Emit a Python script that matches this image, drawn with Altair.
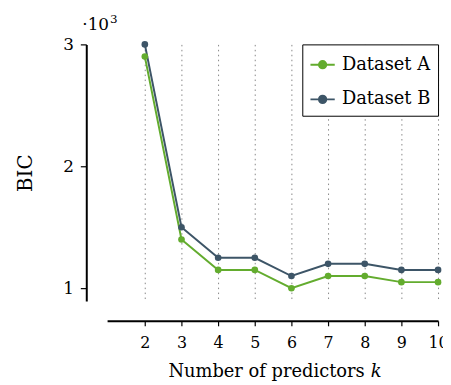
import altair as alt
import pandas as pd

k_values = [2, 3, 4, 5, 6, 7, 8, 9, 10]
bic_a = [2900, 1400, 1150, 1150, 1000, 1100, 1100, 1050, 1050]
bic_b = [3000, 1500, 1250, 1250, 1100, 1200, 1200, 1150, 1150]
series_names = ["Dataset A", "Dataset B"]
series_colors = ["#63ac2e", "#3d5567"]
x_ticks = [2, 3, 4, 5, 6, 7, 8, 9, 10]
y_ticks = [1000, 2000, 3000]

rows = []
for name, vals in zip(series_names, [bic_a, bic_b]):
    for k, v in zip(k_values, vals):
        rows.append({"k": k, "BIC": v, "series": name})
df = pd.DataFrame(rows)

FONT = "DejaVu Serif"
W, H = 334, 259

legend_path = ("M-1,0L1,0M-0.3,0A0.3,0.3,0,1,1,0.3,0"
               "A0.3,0.3,0,1,1,-0.3,0Z")

xscale = alt.Scale(domain=[0.97, 10], nice=False, zero=False)
yscale = alt.Scale(domain=[895, 3000], nice=False, zero=False)
color = alt.Color(
    "series:N",
    scale=alt.Scale(domain=series_names, range=series_colors),
    legend=alt.Legend(
        title=None, orient="none", legendX=197, legendY=0,
        symbolType=legend_path, symbolSize=600, symbolStrokeWidth=2,
        labelFont=FONT, labelFontSize=18, labelColor="black",
        strokeColor="black", fillColor="white", padding=7,
        rowPadding=12, labelOffset=6,
    ),
)

x_enc = alt.X(
    "k:Q", scale=xscale,
    axis=alt.Axis(
        values=x_ticks, title=None, offset=20, grid=True,
        gridDash=[1.5, 3.5], gridColor="#888888", gridWidth=1,
        domainColor="black", domainWidth=2, tickColor="black",
        tickSize=5, tickWidth=1.2, labelFont=FONT, labelFontSize=16,
        labelColor="black", labelPadding=9, labelFlush=False,
    ),
)
y_enc = alt.Y(
    "BIC:Q", scale=yscale,
    axis=alt.Axis(
        values=y_ticks, title="BIC", offset=21, grid=False,
        labelExpr="format(datum.value / 1000, 'd')",
        domainColor="black", domainWidth=2, tickColor="black",
        tickSize=6, tickWidth=1.2, labelFont=FONT, labelFontSize=17,
        labelColor="black", labelPadding=7, titleFont=FONT,
        titleFontSize=20, titleFontWeight="normal", titleColor="black",
        titlePadding=27,
    ),
)

lines = alt.Chart(df).mark_line(strokeWidth=2).encode(
    x=x_enc, y=y_enc, color=color, order="k:Q"
)
points = alt.Chart(df).mark_point(filled=True, size=45, opacity=1).encode(
    x=alt.X("k:Q", scale=xscale), y=alt.Y("BIC:Q", scale=yscale), color=color
)

label_df = pd.DataFrame({"t": ["Number of predictors"]})
title_main = alt.Chart(label_df).mark_text(
    font=FONT, fontSize=18, align="right", baseline="alphabetic", color="black"
).encode(text="t:N", x=alt.value(260), y=alt.value(H + 77))
k_df = pd.DataFrame({"t": ["k"]})
title_k = alt.Chart(k_df).mark_text(
    font=FONT, fontSize=18, fontStyle="italic", align="left",
    baseline="alphabetic", color="black"
).encode(text="t:N", x=alt.value(266), y=alt.value(H + 77))

exp_df = pd.DataFrame({"t": ["·10"]})
exponent = alt.Chart(exp_df).mark_text(
    font=FONT, fontSize=17, align="left", baseline="alphabetic", color="black"
).encode(text="t:N", x=alt.value(-25), y=alt.value(-15))
sup_df = pd.DataFrame({"t": ["3"]})
superscript = alt.Chart(sup_df).mark_text(
    font=FONT, fontSize=12, align="left", baseline="alphabetic", color="black"
).encode(text="t:N", x=alt.value(3), y=alt.value(-22))

chart = alt.layer(lines, points, title_main, title_k, exponent, superscript).properties(
    width=W, height=H,
    autosize=alt.AutoSizeParams(type="none"),
    padding={"left": 100, "top": 35, "right": 5, "bottom": 80},
).configure(background="white").configure_view(stroke=None)

chart.save("out.html", embed_options={"renderer": "svg", "actions": False})
